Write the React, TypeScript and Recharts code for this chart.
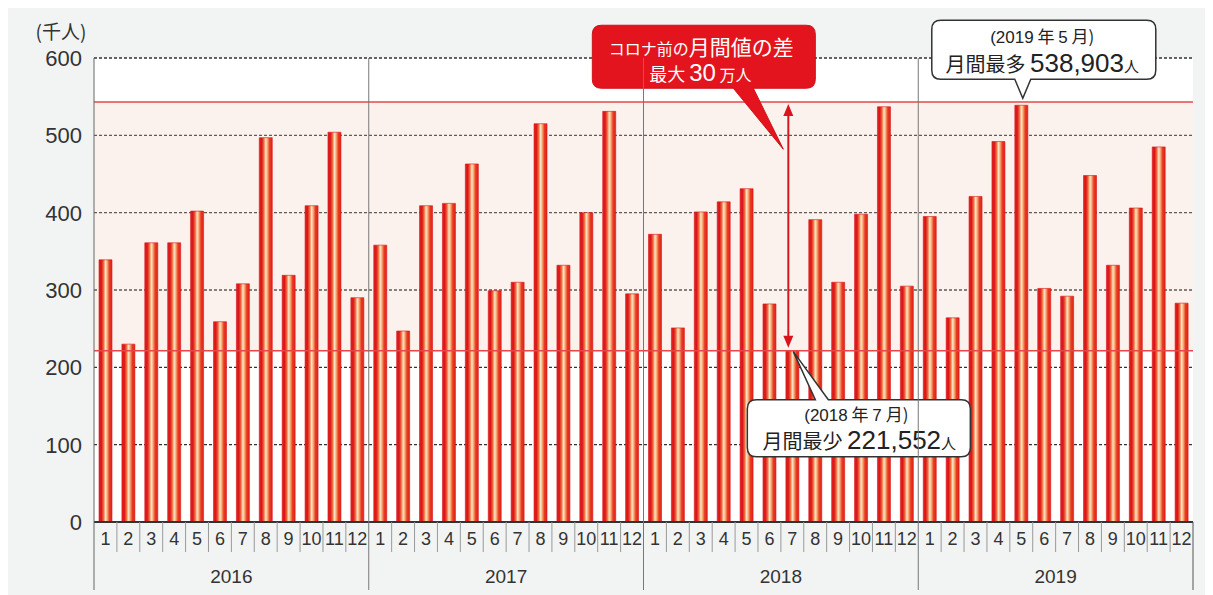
import React from 'react';
import { BarChart, Bar, XAxis, YAxis, CartesianGrid, ReferenceArea, ReferenceLine, ReferenceDot } from 'recharts';

const years = ['2016', '2017', '2018', '2019'];
const months = ['1', '2', '3', '4', '5', '6', '7', '8', '9', '10', '11', '12'];
const v2016 = [339, 230, 361, 361, 402, 259, 308, 497, 319, 409, 504, 290];
const v2017 = [358, 247, 409, 412, 463, 299, 310, 515, 332, 400, 531, 295];
const v2018 = [372, 251, 401, 414, 431, 282, 221.552, 391, 310, 398, 537, 305];
const v2019 = [395, 264, 421, 492, 538.903, 302, 292, 448, 332, 406, 485, 283];
const yTicks = [0, 100, 200, 300, 400, 500, 600];
const maxVal = 538.903;
const minVal = 221.552;
const bandTop = 543;
const unitLabel = '(千人)';

const seriesByYear = [v2016, v2017, v2018, v2019];
const data = years.flatMap((y, yi) =>
  months.map((m, mi) => ({ key: `${y}-${m}`, year: y, month: m, v: seriesByYear[yi][mi] }))
);

const W = 1206;
const H = 591;
const M = { top: 54, right: 20, left: 0, bottom: 3 };
const Y_W = 87;
const X_H = 70;
const plotW = W - M.left - M.right - Y_W;
const plotH = H - M.top - M.bottom - X_H;
const band = plotW / data.length;

const FONT = '"Liberation Sans", Arial, "Noto Sans CJK JP", sans-serif';
const JFONT = '"Noto Sans CJK JP", sans-serif';

const XTick = (props: any) => {
  const { x, y, index } = props;
  const d = data[index];
  if (!d) return null;
  const m = Number(d.month);
  const left = x - band / 2;
  const els: any[] = [];
  els.push(
    <text key="t" x={x} y={y + 23} textAnchor="middle" fontSize={18} fill="#333" fontFamily={FONT}>
      {d.month}
    </text>
  );
  if (m > 1) {
    els.push(<line key="s" x1={left} x2={left} y1={y} y2={y + 30} stroke="#999" strokeWidth={1} />);
  } else {
    els.push(
      <line key="yl" x1={left} x2={left} y1={index === 0 ? y : y - plotH} y2={y + 68} stroke={index === 0 ? '#666' : '#777'} strokeWidth={1} />
    );
  }
  if (m === 6) {
    els.push(
      <text key="yr" x={x + band / 2} y={y + 61} textAnchor="middle" fontSize={19} fill="#333" fontFamily={FONT}>
        {d.year}
      </text>
    );
  }
  if (index === data.length - 1) {
    els.push(<line key="end" x1={x + band / 2} x2={x + band / 2} y1={y} y2={y + 68} stroke="#555" strokeWidth={1} />);
  }
  return <g>{els}</g>;
};

const YTick = (props: any) => {
  const { x, y, payload } = props;
  return (
    <g>
      <text x={x - 12} y={y + 8} textAnchor="end" fontSize={22} fill="#333" fontFamily={FONT}>
        {payload.value}
      </text>
      {payload.value === 600 ? (
        <text x={x - 33} y={y - 19} textAnchor="middle" fontSize={19} fill="#333" fontFamily={JFONT}>
          {unitLabel}
        </text>
      ) : null}
    </g>
  );
};

const bubblePath = (x0: number, y0: number, x1: number, y1: number, r: number, p: { side: 'top' | 'bottom'; a: number; b: number; tx: number; ty: number }) => {
  const top = p.side === 'top' ? `L ${p.a} ${y0} L ${p.tx} ${p.ty} L ${p.b} ${y0} ` : '';
  const bot = p.side === 'bottom' ? `L ${p.b} ${y1} L ${p.tx} ${p.ty} L ${p.a} ${y1} ` : '';
  return (
    `M ${x0 + r} ${y0} ` + top + `L ${x1 - r} ${y0} Q ${x1} ${y0} ${x1} ${y0 + r} L ${x1} ${y1 - r} Q ${x1} ${y1} ${x1 - r} ${y1} ` +
    bot + `L ${x0 + r} ${y1} Q ${x0} ${y1} ${x0} ${y1 - r} L ${x0} ${y0 + r} Q ${x0} ${y0} ${x0 + r} ${y0} Z`
  );
};

const MaxCallout = (props: any) => {
  const { cx, cy } = props;
  if (cx == null || cy == null) return null;
  const d = bubblePath(cx - 89.5, cy - 85, cx + 134.5, cy - 26, 9, { side: 'bottom', a: cx - 6.5, b: cx + 9.5, tx: cx + 1.5, ty: cy - 7 });
  return (
    <g>
      <path d={d} fill="#fff" stroke="#333" strokeWidth={1.5} />
      <text x={cx + 21} y={cy - 62} textAnchor="middle" fontSize={17} fill="#222" fontFamily={FONT}>
        <tspan>(2019</tspan>
        <tspan fontFamily={JFONT}> 年 </tspan>
        <tspan>5</tspan>
        <tspan fontFamily={JFONT}> 月)</tspan>
      </text>
      <text x={cx + 21} y={cy - 33} textAnchor="middle" fill="#222" fontFamily={FONT}>
        <tspan fontFamily={JFONT} fontSize={20}>月間最多 </tspan>
        <tspan fontSize={26}>538,903</tspan>
        <tspan fontFamily={JFONT} fontSize={15}>人</tspan>
      </text>
    </g>
  );
};

const MinCallout = (props: any) => {
  const { cx, cy } = props;
  if (cx == null || cy == null) return null;
  const d = bubblePath(cx - 45, cy + 49, cx + 178, cy + 106, 9, { side: 'top', a: cx + 23, b: cx + 36, tx: cx + 1, ty: cy + 1 });
  return (
    <g>
      <path d={d} fill="#fff" stroke="#333" strokeWidth={1.5} />
      <text x={cx + 64} y={cy + 70} textAnchor="middle" fontSize={17} fill="#222" fontFamily={FONT}>
        <tspan>(2018</tspan>
        <tspan fontFamily={JFONT}> 年 </tspan>
        <tspan>7</tspan>
        <tspan fontFamily={JFONT}> 月)</tspan>
      </text>
      <text x={cx + 67} y={cy + 98} textAnchor="middle" fill="#222" fontFamily={FONT}>
        <tspan fontFamily={JFONT} fontSize={20}>月間最少 </tspan>
        <tspan fontSize={26}>221,552</tspan>
        <tspan fontFamily={JFONT} fontSize={15}>人</tspan>
      </text>
    </g>
  );
};

const DiffCallout = (props: any) => {
  const { cx, cy } = props;
  if (cx == null || cy == null) return null;
  const d = bubblePath(cx - 200, cy - 80, cx + 23, cy - 17, 9, { side: 'bottom', a: cx - 59, b: cx - 39, tx: cx - 9, ty: cy + 44 });
  return (
    <g>
      <path d={d} fill="#e3141d" stroke="#d01018" strokeWidth={1} />
      <text x={cx - 91} y={cy - 50} textAnchor="middle" fill="#fff" fontFamily={JFONT}>
        <tspan fontSize={16}>コロナ前の</tspan>
        <tspan fontSize={21}>月間値の差</tspan>
      </text>
      <text x={cx - 92} y={cy - 24} textAnchor="middle" fill="#fff" fontFamily={JFONT}>
        <tspan fontSize={18}>最大 </tspan>
        <tspan fontSize={24} fontFamily={FONT}>30</tspan>
        <tspan fontSize={16}> 万人</tspan>
      </text>
    </g>
  );
};

const DiffArrow = (props: any) => {
  const { x1, y1, x2, y2 } = props;
  if (x1 == null) return null;
  const x = x1 - 4;
  const top = Math.min(y1, y2) + 2;
  const bot = Math.max(y1, y2) - 3;
  const hw = 5;
  const hl = 12;
  return (
    <g>
      <line x1={x} x2={x} y1={top + hl - 1} y2={bot - hl + 1} stroke="#d8141c" strokeWidth={2} />
      <polygon points={`${x},${top} ${x - hw},${top + hl} ${x + hw},${top + hl}`} fill="#d8141c" />
      <polygon points={`${x},${bot} ${x - hw},${bot - hl} ${x + hw},${bot - hl}`} fill="#d8141c" />
    </g>
  );
};

export default function App() {
  return (
    <div style={{ width: W, height: H, marginTop: -4, marginLeft: -1, background: '#f2f3f3' }}>
      <BarChart width={W} height={H} data={data} margin={M} barSize={13}>
        <defs>
          <linearGradient id="barGrad" x1="0" y1="0" x2="1" y2="0">
            <stop offset="0%" stopColor="#e4231f" />
            <stop offset="18%" stopColor="#d9151a" />
            <stop offset="35%" stopColor="#ef6a3c" />
            <stop offset="50%" stopColor="#fde5c6" />
            <stop offset="62%" stopColor="#f7b07a" />
            <stop offset="80%" stopColor="#e9391f" />
            <stop offset="100%" stopColor="#e0231d" />
          </linearGradient>
        </defs>
        <CartesianGrid vertical={false} stroke="#333" strokeDasharray="3 2" strokeWidth={1.3} fill="#ffffff" fillOpacity={1} />
        <ReferenceArea y1={minVal} y2={bandTop} fill="#f3cbb9" fillOpacity={0.26} stroke="none" ifOverflow="visible" />
        <XAxis
          dataKey="key"
          interval={0}
          height={X_H}
          tickLine={false}
          tickSize={0}
          tickMargin={0}
          axisLine={{ stroke: '#333', strokeWidth: 2 }}
          tick={<XTick />}
        />
        <YAxis
          domain={[0, 600]}
          ticks={yTicks}
          width={Y_W}
          tickLine={false}
          tickSize={0}
          tickMargin={0}
          axisLine={{ stroke: '#666', strokeWidth: 1 }}
          tick={<YTick />}
          interval={0}
        />
        <ReferenceLine y={bandTop} stroke="#e8474a" strokeWidth={1.5} />
        <ReferenceLine y={minVal} stroke="#e8474a" strokeWidth={1.5} />
        <Bar dataKey="v" fill="url(#barGrad)" stroke="#d8141b" strokeWidth={0.6} isAnimationActive={false} />
        <ReferenceLine
          segment={[{ x: '2018-7', y: bandTop }, { x: '2018-7', y: minVal }]}
          shape={<DiffArrow />}
          ifOverflow="visible"
        />
        <ReferenceDot x="2018-7" y={maxVal} r={0} shape={<DiffCallout />} ifOverflow="visible" />
        <ReferenceDot x="2019-5" y={maxVal} r={0} shape={<MaxCallout />} ifOverflow="visible" />
        <ReferenceDot x="2018-7" y={minVal} r={0} shape={<MinCallout />} ifOverflow="visible" />
      </BarChart>
    </div>
  );
}
